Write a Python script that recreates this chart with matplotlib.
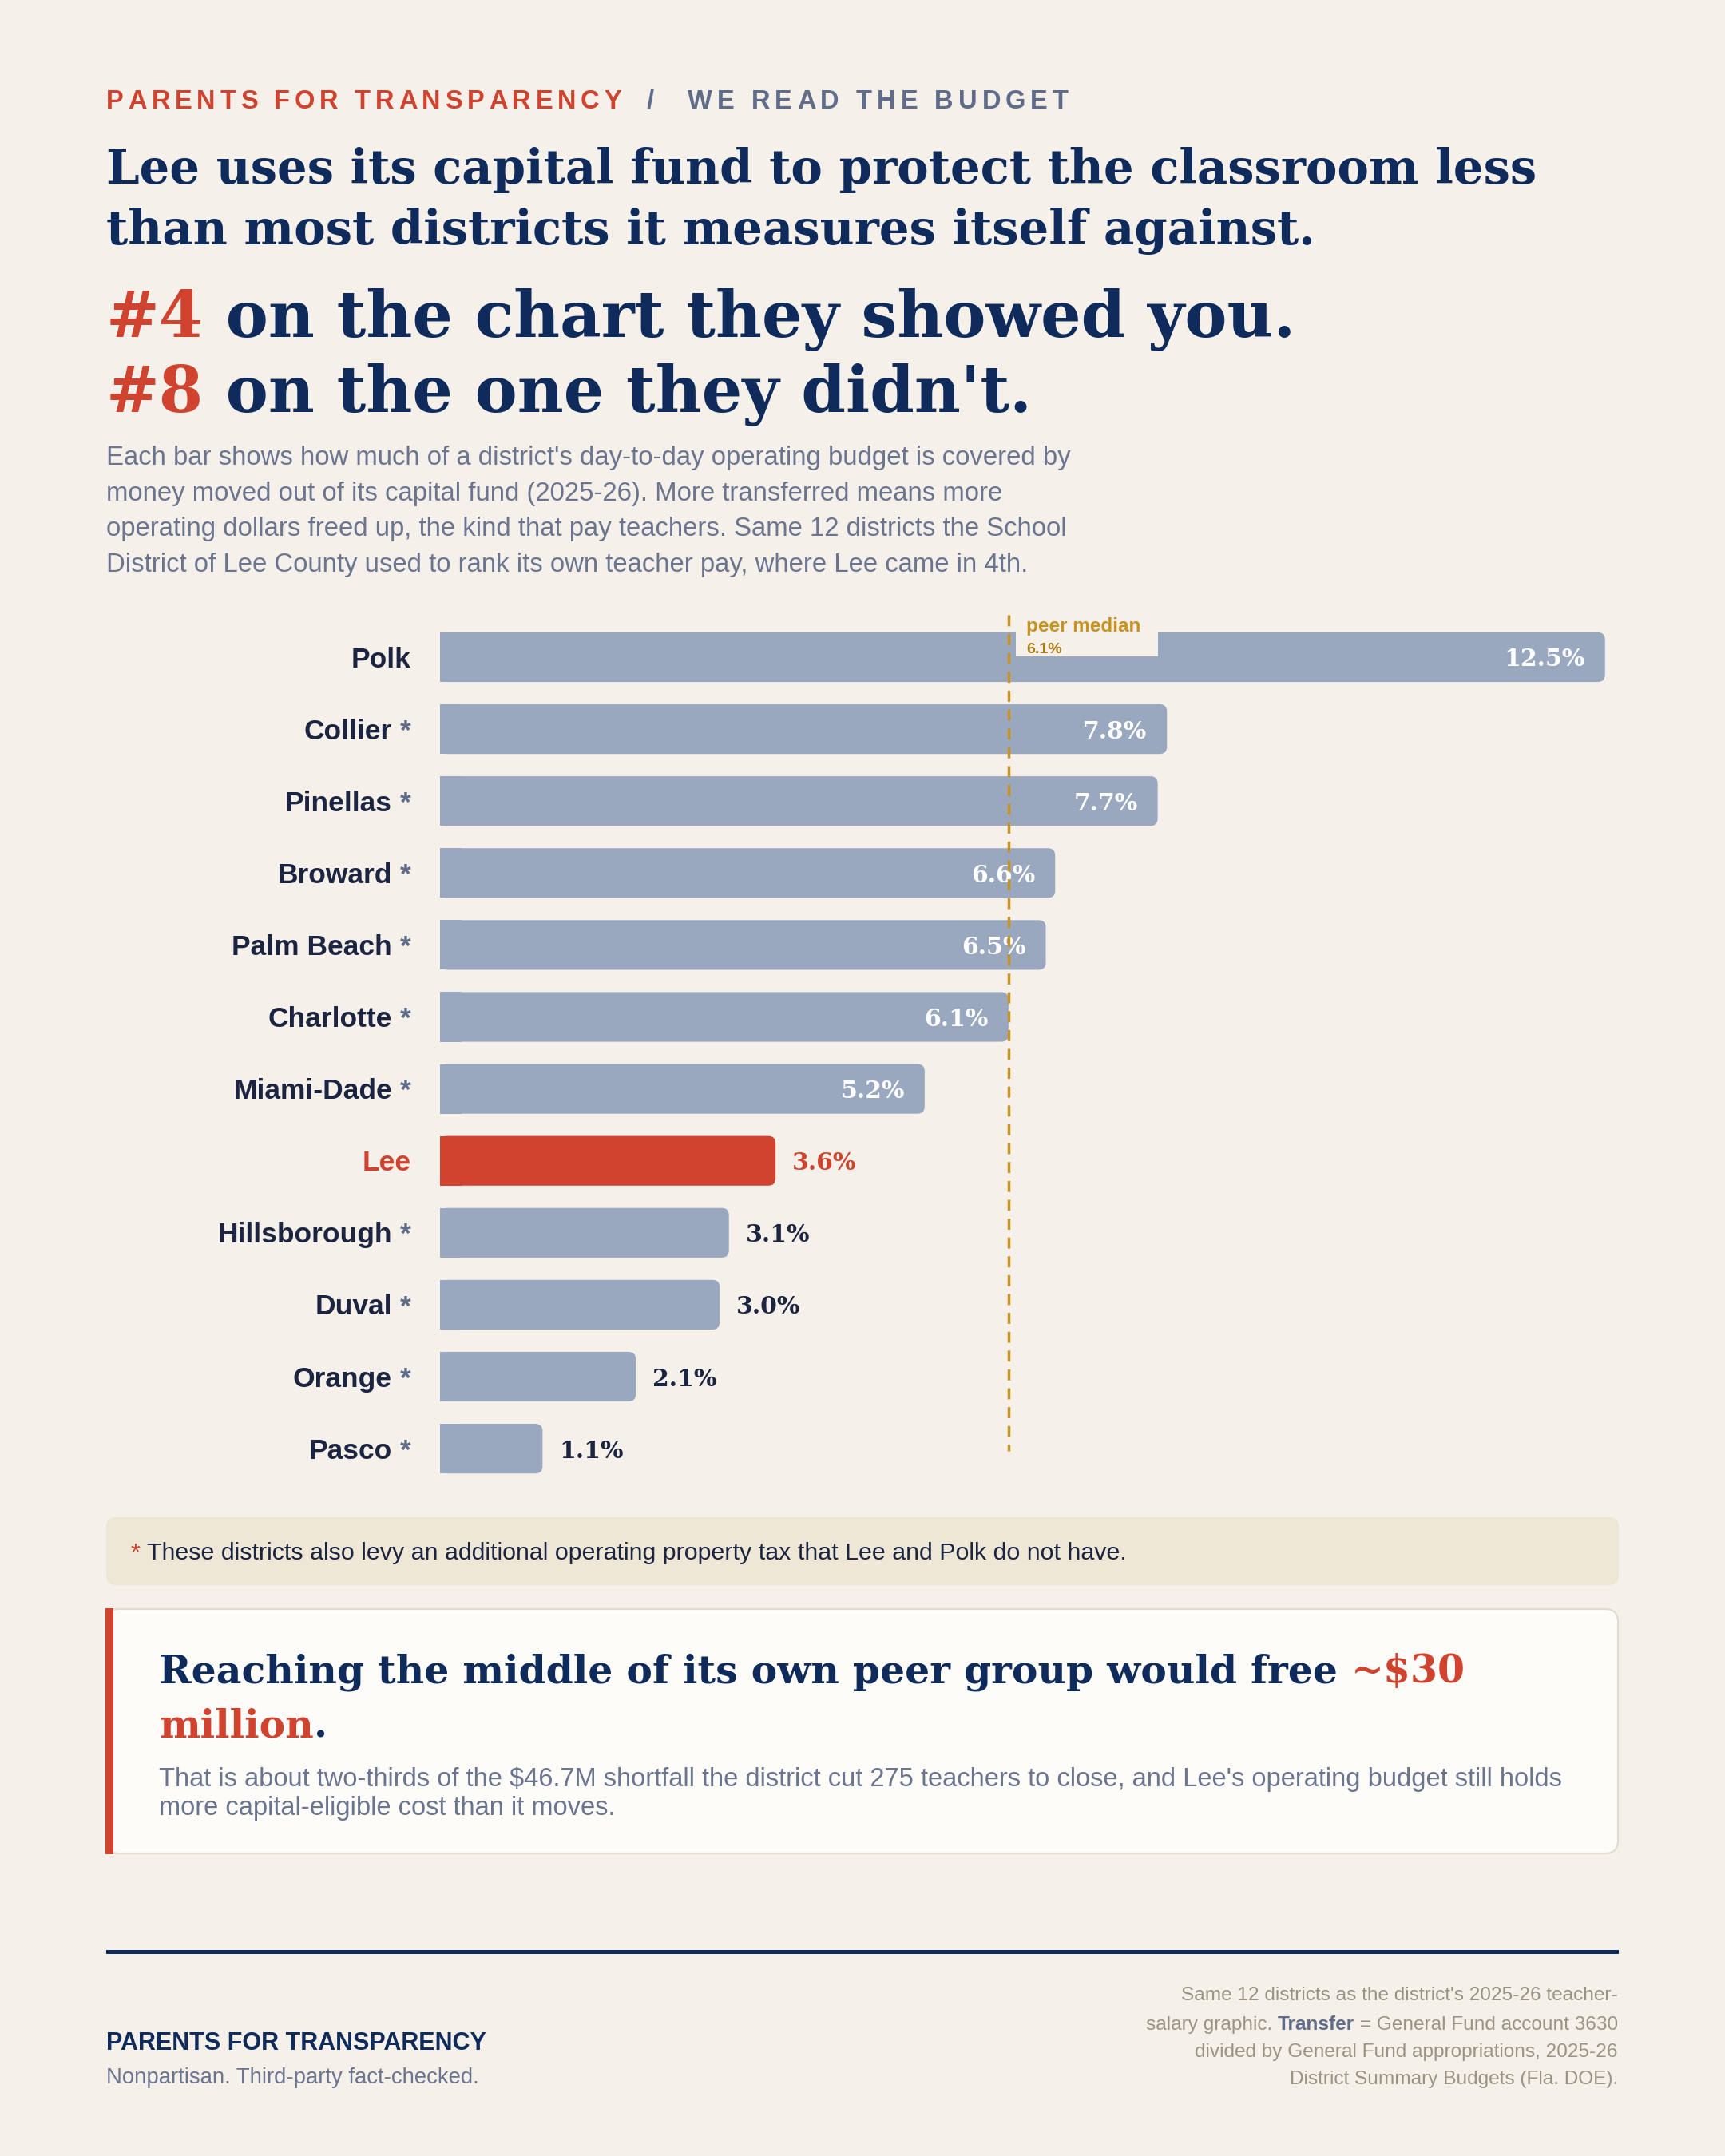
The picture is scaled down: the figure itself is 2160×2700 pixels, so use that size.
import matplotlib
matplotlib.use('Agg')
import matplotlib.pyplot as plt
from matplotlib.patches import FancyBboxPatch, Rectangle

# ---------------- data ----------------
districts = ['Polk', 'Collier', 'Pinellas', 'Broward', 'Palm Beach', 'Charlotte',
             'Miami-Dade', 'Lee', 'Hillsborough', 'Duval', 'Orange', 'Pasco']
transfer_pct = [12.5, 7.8, 7.7, 6.6, 6.5, 6.1, 5.2, 3.6, 3.1, 3.0, 2.1, 1.1]
extra_levy = [False, True, True, True, True, True, True, False, True, True, True, True]
highlight = 'Lee'
peer_median = 6.1

kicker_a = 'PARENTS FOR TRANSPARENCY'
kicker_b = 'WE READ THE BUDGET'
head_lines = ['Lee uses its capital fund to protect the classroom less',
              'than most districts it measures itself against.']
big_lines = [('#4', ' on the chart they showed you.'),
             ('#8', ' on the one they didn\'t.')]
sub_lines = ["Each bar shows how much of a district's day-to-day operating budget is covered by",
             "money moved out of its capital fund (2025-26). More transferred means more",
             "operating dollars freed up, the kind that pay teachers. Same 12 districts the School",
             "District of Lee County used to rank its own teacher pay, where Lee came in 4th."]
footnote = 'These districts also levy an additional operating property tax that Lee and Polk do not have.'
callout_a = 'Reaching the middle of its own peer group would free '
callout_b = '~$30'
callout_c = 'million'
callout_body = ["That is about two-thirds of the $46.7M shortfall the district cut 275 teachers to close, and Lee's operating budget still holds",
                "more capital-eligible cost than it moves."]
footer_title = 'PARENTS FOR TRANSPARENCY'
footer_tag = 'Nonpartisan. Third-party fact-checked.'

# ---------------- style ----------------
W, H = 2160, 2700
BG = '#f5f1ea'
NAVY = '#0e2b5c'
RED = '#d0432f'
SLATE = '#5f6d8a'
GRAYTXT = '#6b7590'
BAR = '#9aa8bf'
LABEL = '#1b2440'
GOLD = '#c8921e'
GOLD_D = '#a97b17'
NOTEBOX = '#efe7d6'
CARD = '#fdfcf8'
CARDEDGE = '#e2dccd'
SRC = '#9a9483'
SERIF = 'DejaVu Serif'
SANS = 'Liberation Sans'

fig = plt.figure(figsize=(W / 100, H / 100), dpi=100)
fig.patch.set_facecolor(BG)
R = fig.canvas.get_renderer()

bg = fig.add_axes([0, 0, 1, 1], zorder=0)
bg.set_xlim(0, W)
bg.set_ylim(H, 0)
bg.axis('off')


def txt(x, y, s, size, color, family=SANS, weight='normal', ha='left', va='baseline', ax=None, **kw):
    return (ax or bg).text(x, y, s, fontsize=size, color=color, family=family,
                           weight=weight, ha=ha, va=va, **kw)


def tw(s, size, family, weight='normal'):
    t = bg.text(0, 0, s, fontsize=size, family=family, weight=weight)
    w = t.get_window_extent(renderer=R).width
    t.remove()
    return w


def adv(s, size, family, weight='normal'):
    return tw('|' + s + '|', size, family, weight) - tw('||', size, family, weight)


def fit(s, target, family, weight='normal'):
    return 20 * target / tw(s, 20, family, weight)


def runs(x, y, segs, size, family, ha='left'):
    # segs: list of (text, color, weight)
    widths = [adv(s, size, family, w) for s, c, w in segs]
    total = sum(widths)
    cx = x - total if ha == 'right' else x
    for (s, c, w), wd in zip(segs, widths):
        txt(cx, y, s, size, c, family, w)
        cx += wd


def tracked(x, y, s, size, color, target, weight='bold'):
    ws = [adv(ch, size, SANS, weight) for ch in s]
    track = (target - sum(ws)) / (len(s) - 1)
    cx = x
    for ch, wd in zip(s, ws):
        txt(cx, y, ch, size, color, SANS, weight)
        cx += wd + track


# ---------------- header ----------------
ks = 23.5
tracked(133, 136, kicker_a, ks, RED, 645)
txt(810, 136, '/', ks, SLATE, SANS, 'bold')
tracked(861, 136, kicker_b, ks, SLATE, 1338 - 861)

hs = fit(head_lines[0], 1793, SERIF, 'bold')
txt(133, 230, head_lines[0], hs, NAVY, SERIF, 'bold')
txt(133, 306, head_lines[1], hs, NAVY, SERIF, 'bold')

bs = fit(big_lines[0][0] + big_lines[0][1], 1490, SERIF, 'bold')
for (a, b), yb in zip(big_lines, [422, 516]):
    runs(133, yb, [(a, RED, 'bold'), (b, NAVY, 'bold')], bs, SERIF)

ss = fit(sub_lines[0], 1202, SANS)
for i, line in enumerate(sub_lines):
    txt(133, 582 + i * 44.6, line, ss, GRAYTXT, SANS)

# ---------------- chart ----------------
X0, PXU = 551, 116.7          # bar origin, px per percentage point
Y0, STEP = 823, 90.1          # first bar centre, px per row
ax_top, ax_bot, ax_right = 770, 1860, 2027
ax = fig.add_axes([X0 / W, 1 - ax_bot / H, (ax_right - X0) / W, (ax_bot - ax_top) / H], zorder=1)
ax.set_xlim(0, (ax_right - X0) / PXU)
ax.set_ylim((ax_bot - Y0) / STEP, -(Y0 - ax_top) / STEP)
ax.axis('off')


def dx(p):
    return p / PXU


def dy(p):
    return p / STEP


ypos = list(range(len(districts)))
colors = [RED if d == highlight else BAR for d in districts]
bars = ax.barh(ypos, transfer_pct, height=0.69, color=colors, zorder=2)
r = dx(9)
for b, c in zip(bars, colors):
    x0, y0, w, h = b.get_x(), b.get_y(), b.get_width(), b.get_height()
    b.set_visible(False)
    ax.add_patch(FancyBboxPatch((x0, y0), w, h, boxstyle=f'round,pad=0,rounding_size={r}',
                                mutation_aspect=PXU / STEP, fc=c, ec='none', zorder=2))
    ax.add_patch(Rectangle((x0, y0), min(w, 3 * r), h, fc=c, ec='none', zorder=2))

ls = 25.5
vs = 21.5
for i, (d, v, lev) in enumerate(zip(districts, transfer_pct, extra_levy)):
    col = RED if d == highlight else LABEL
    base = i + dy(12.5)
    if lev:
        txt(dx(515 - X0), base, '*', ls, SLATE, SANS, 'bold', ha='right', ax=ax, clip_on=False)
        txt(dx(491 - X0), base, d, ls, col, SANS, 'bold', ha='right', ax=ax, clip_on=False)
    else:
        txt(dx(515 - X0), base, d, ls, col, SANS, 'bold', ha='right', ax=ax, clip_on=False)
    lab = f'{v:.1f}%'
    vb = i + dy(11.5)
    if v >= 5:
        txt(v - dx(25), vb, lab, vs, 'white', SERIF, 'bold', ha='right', ax=ax, zorder=3)
    else:
        txt(v + dx(21), vb, lab, vs, RED if d == highlight else LABEL, SERIF, 'bold', ax=ax, zorder=3)

ax.vlines(peer_median, -(Y0 - ax_top) / STEP, len(districts) - 1 + dy(3), colors=GOLD,
          linewidth=2.5, linestyles=(0, (4, 2.8)), zorder=4)
ax.add_patch(Rectangle((dx(1272 - X0), -(Y0 - ax_top) / STEP), dx(178), dy(822 - ax_top),
                       fc=BG, ec='none', zorder=5))
txt(peer_median + dx(22), dy(791 - Y0), 'peer median', 17.5, GOLD, SANS, 'bold', ax=ax, zorder=6)
txt(peer_median + dx(22), dy(818 - Y0), f'{peer_median:.1f}%', 14, GOLD_D, SANS, 'bold', ax=ax, zorder=6)

# ---------------- footnote box ----------------
bg.add_patch(FancyBboxPatch((133, 1900), 2027 - 133, 85, boxstyle='round,pad=0,rounding_size=12',
                            fc=NOTEBOX, ec='none'))
fs = fit(footnote, 1225, SANS)
txt(164, 1953, '*', fs, RED, SANS)
txt(184, 1953, footnote, fs, LABEL, SANS)

# ---------------- callout card ----------------
bg.add_patch(FancyBboxPatch((133, 2015), 2026 - 133, 306, boxstyle='round,pad=0,rounding_size=16',
                            fc=CARD, ec=CARDEDGE, lw=1.6))
bg.add_patch(Rectangle((132, 2014), 10, 308, fc=RED, ec='none'))
cs = fit(callout_a + callout_b, 1636, SERIF, 'bold')
runs(199, 2107, [(callout_a, NAVY, 'bold'), (callout_b, RED, 'bold')], cs, SERIF)
runs(199, 2175, [(callout_c, RED, 'bold'), ('.', NAVY, 'bold')], cs, SERIF)
cbs = fit(callout_body[0], 1753, SANS)
txt(199, 2237, callout_body[0], cbs, GRAYTXT, SANS)
txt(199, 2273, callout_body[1], cbs, GRAYTXT, SANS)

# ---------------- footer ----------------
bg.add_patch(Rectangle((133, 2442), 2027 - 133, 4.5, fc=NAVY, ec='none'))
fts = fit(footer_title, 610 - 133, SANS, 'bold')
txt(133, 2567, footer_title, fts, NAVY, SANS, 'bold')
fgs = fit(footer_tag, 600 - 133, SANS)
txt(133, 2609, footer_tag, fgs, GRAYTXT, SANS)

srcs = fit("Same 12 districts as the district's 2025-26 teacher-", 2026 - 1480, SANS)
txt(2026, 2505, "Same 12 districts as the district's 2025-26 teacher-", srcs, SRC, SANS, ha='right')
runs(2026, 2542, [('salary graphic. ', SRC, 'normal'), ('Transfer', SLATE, 'bold'),
                  (' = General Fund account 3630', SRC, 'normal')], srcs, SANS, ha='right')
txt(2026, 2576, 'divided by General Fund appropriations, 2025-26', srcs, SRC, SANS, ha='right')
txt(2026, 2610, 'District Summary Budgets (Fla. DOE).', srcs, SRC, SANS, ha='right')

fig.savefig('out.png', dpi=100, facecolor=BG)
